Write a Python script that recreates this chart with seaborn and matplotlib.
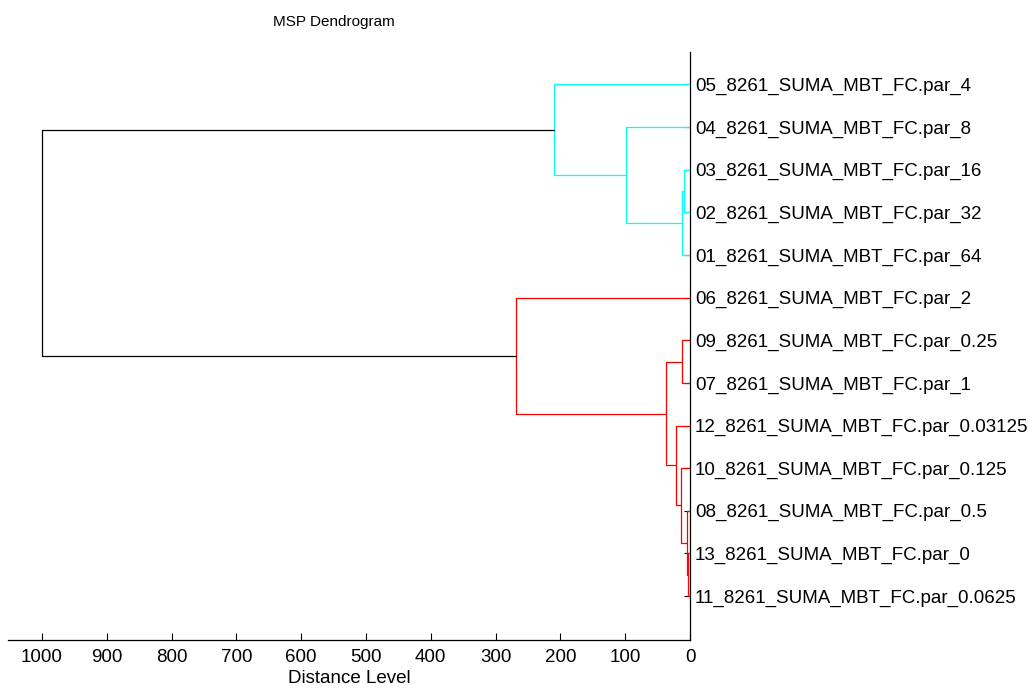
import matplotlib
matplotlib.use("Agg")
import matplotlib.pyplot as plt
import numpy as np
import pandas as pd
import seaborn as sns

# leaves, listed top to bottom as they appear in the plot
leaf_labels = [
    "05_8261_SUMA_MBT_FC.par_4",
    "04_8261_SUMA_MBT_FC.par_8",
    "03_8261_SUMA_MBT_FC.par_16",
    "02_8261_SUMA_MBT_FC.par_32",
    "01_8261_SUMA_MBT_FC.par_64",
    "06_8261_SUMA_MBT_FC.par_2",
    "09_8261_SUMA_MBT_FC.par_0.25",
    "07_8261_SUMA_MBT_FC.par_1",
    "12_8261_SUMA_MBT_FC.par_0.03125",
    "10_8261_SUMA_MBT_FC.par_0.125",
    "08_8261_SUMA_MBT_FC.par_0.5",
    "13_8261_SUMA_MBT_FC.par_0",
    "11_8261_SUMA_MBT_FC.par_0.0625",
]

# linkage: node ids < 13 are leaves, merge k creates node 13 + k
merge_left = [2, 13, 1, 0, 11, 10, 9, 8, 6, 21, 5, 16]
merge_right = [3, 4, 14, 15, 12, 17, 18, 19, 7, 20, 22, 23]
merge_height = [8.8, 11.9, 98.7, 210, 3.5, 5.1, 14.3, 21, 11.9, 37, 268, 1000]

group_colors = ["#00ffff", "#ff0000"]
above_color = "#000000"
color_threshold = 0.7 * max(merge_height)
x_ticks = list(range(0, 1001, 100))

n_leaves = len(leaf_labels)
leaf_pos = np.arange(1, n_leaves + 1)

node_y = {i: float(leaf_pos[i]) for i in range(n_leaves)}
node_h = {i: 0.0 for i in range(n_leaves)}
for k, (a, b, h) in enumerate(zip(merge_left, merge_right, merge_height)):
    node = n_leaves + k
    node_y[node] = (node_y[a] + node_y[b]) / 2
    node_h[node] = h

# colour groups: topmost merges below the threshold, in drawing order
parent = {}
for k, (a, b) in enumerate(zip(merge_left, merge_right)):
    parent[a] = n_leaves + k
    parent[b] = n_leaves + k


def group_root(node):
    while node in parent and node_h[parent[node]] < color_threshold:
        node = parent[node]
    return node


roots = []
for k in range(len(merge_height)):
    node = n_leaves + k
    if merge_height[k] < color_threshold:
        r = group_root(node)
        if r not in roots:
            roots.append(r)
roots.sort(key=lambda r: node_y[r])

rows = []
for k, (a, b, h) in enumerate(zip(merge_left, merge_right, merge_height)):
    node = n_leaves + k
    if h < color_threshold:
        grp = f"g{roots.index(group_root(node))}"
    else:
        grp = "above"
    pts = [(node_h[a], node_y[a]), (h, node_y[a]), (h, node_y[b]), (node_h[b], node_y[b])]
    for order, (x, y) in enumerate(pts):
        rows.append({"link": k, "order": order, "x": x, "y": y, "group": grp})
links = pd.DataFrame(rows)

palette = {f"g{i}": c for i, c in enumerate(group_colors)}
palette["above"] = above_color

sns.set_style("white")
plt.rcParams["font.family"] = ["Liberation Sans", "DejaVu Sans"]
plt.rcParams["font.size"] = 13.5
plt.rcParams["text.color"] = "black"
plt.rcParams["axes.labelcolor"] = "black"

fig = plt.figure(figsize=(10.32, 6.9), dpi=100)
ax = fig.add_axes([8 / 1032, 50 / 690, 682 / 1032, 588 / 690])

sns.lineplot(
    data=links, x="x", y="y", units="link", hue="group", estimator=None,
    sort=False, palette=palette, legend=False, linewidth=0.9, ax=ax,
)

ax.set_xlim(1052.5, 0)
ax.set_ylim(14.03, 0.24)
ax.set_xticks(x_ticks)
ax.set_xticklabels([str(t) for t in x_ticks])
ax.yaxis.tick_right()
ax.set_yticks(leaf_pos)
ax.set_yticklabels(leaf_labels)
ax.set_ylabel("")
ax.set_xlabel("Distance Level", labelpad=3, color="black")

for side in ["top", "left"]:
    ax.spines[side].set_visible(False)
for side in ["bottom", "right"]:
    ax.spines[side].set_color("black")
    ax.spines[side].set_linewidth(0.9)

ax.tick_params(axis="x", direction="in", length=4.8, width=0.8, pad=6.2, colors="black", bottom=True)
ax.tick_params(axis="y", direction="in", length=4.3, width=0.8, pad=3.6, colors="black", right=True, left=False)

fig.text(273 / 1032, 1 - 26 / 690, "MSP Dendrogram", ha="left", va="baseline",
         fontsize=11, color="black")

fig.savefig("out.png", dpi=100)
